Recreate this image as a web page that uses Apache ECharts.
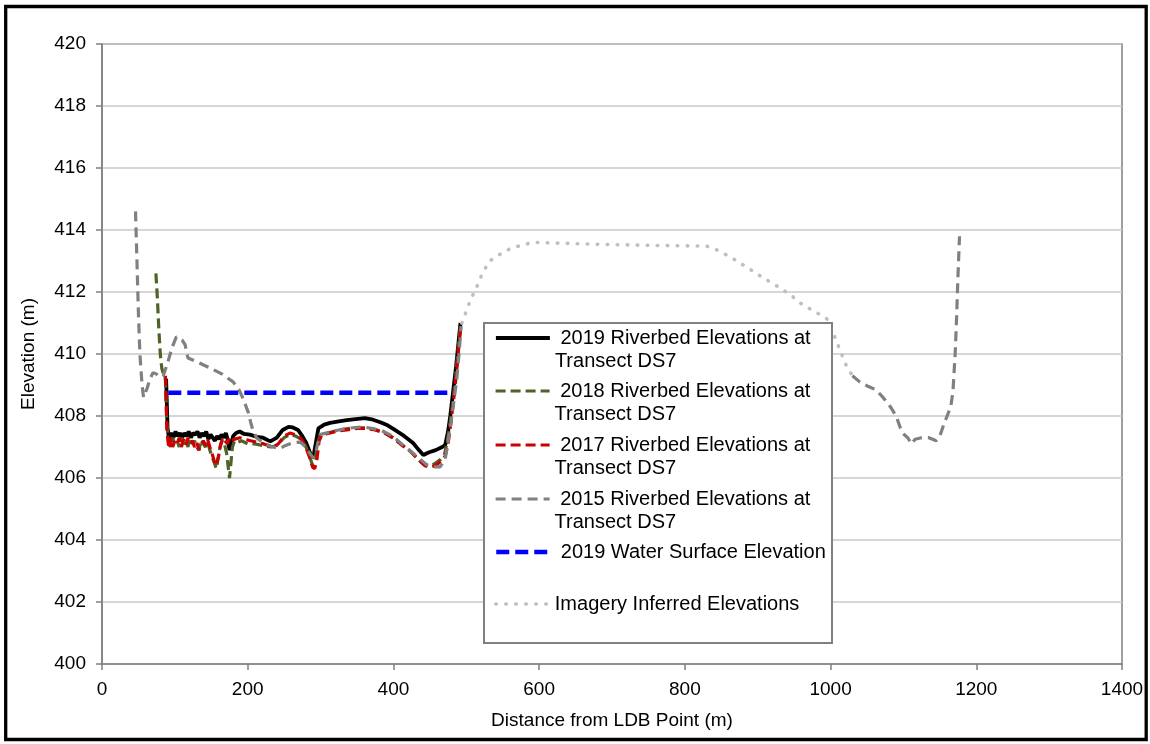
<!DOCTYPE html>
<html>
<head>
<meta charset="utf-8">
<script src="https://cdn.jsdelivr.net/npm/echarts@6/dist/echarts.min.js"></script>
<style>
html,body{margin:0;padding:0;background:#fff;}
#chart{width:1150px;height:744px;}
</style>
</head>
<body>
<div id="chart"></div>
<script>
// ---- Data (distance m, elevation m) ----
const xTicks = [0, 200, 400, 600, 800, 1000, 1200, 1400];
const yTicks = [400, 402, 404, 406, 408, 410, 412, 414, 416, 418, 420];

const names = [
  '2019 Riverbed Elevations at Transect DS7',
  '2018 Riverbed Elevations at Transect DS7',
  '2017 Riverbed Elevations at Transect DS7',
  '2015 Riverbed Elevations at Transect DS7',
  '2019 Water Surface Elevation',
  'Imagery Inferred Elevations'
];

const riverbed2019 = [
  [88,409.2],[89,408.4],[90,407.6],[92,407.3],[95,407.45],[98,407.3],[101,407.5],[104,407.35],[107,407.45],
  [110,407.3],[113,407.45],[116,407.35],[119,407.5],[122,407.3],[125,407.45],[128,407.4],[131,407.5],[134,407.3],
  [137,407.45],[140,407.35],[143,407.5],[146,407.25],[149,407.4],[152,407.3],[155,407.2],[158,407.35],[161,407.25],
  [164,407.4],[167,407.3],[170,407.45],[173,407.2],[175,406.9],[177,407.1],[180,407.35],[184,407.45],[189,407.5],
  [195,407.42],[203,407.4],[212,407.33],[221,407.3],[231,407.18],[240,407.3],[248,407.55],[256,407.65],[262,407.63],
  [269,407.55],[275,407.35],[280,407.15],[285,406.85],[288,406.65],[291,406.8],[294,407.2],[297,407.6],[305,407.72],
  [313,407.78],[325,407.83],[336,407.87],[348,407.9],[361,407.93],[372,407.88],[382,407.8],[392,407.7],[402,407.55],
  [415,407.35],[427,407.13],[435,406.9],[441,406.74],[446,406.8],[450,406.84],[458,406.9],[467,407.0],[471,407.06],
  [475,407.5],[478,408.0],[482,408.8],[486,409.6],[489,410.3],[492,411.0]
];

const riverbed2018 = [
  [74,412.6],[76,411.8],[78,410.8],[80,410.0],[82,409.55],[85,409.3],[87,409.2],[88,408.6],[89,407.8],[91,407.2],
  [94,407.0],[97,407.3],[100,407.1],[103,407.2],[106,407.0],[109,407.3],[112,407.1],[115,407.2],[118,407.0],
  [121,407.3],[124,407.1],[127,407.2],[130,407.0],[133,406.9],[136,407.2],[139,407.1],[142,407.0],[145,407.2],
  [148,406.9],[151,406.7],[154,406.5],[157,406.3],[159,406.6],[162,407.0],[165,407.2],[168,407.1],[171,406.8],
  [173,406.4],[175,406.0],[177,406.5],[179,407.0],[182,407.2],[186,407.15],[192,407.2],[200,407.1],[210,407.1],
  [220,407.05],[232,407.0],[240,407.05],[250,407.3],[258,407.4],[266,407.35],[273,407.25],[280,407.0],[285,406.7],
  [289,406.4],[292,406.5],[295,407.0],[299,407.35],[310,407.45],[325,407.55],[340,407.6],[358,407.62],[372,407.58],
  [385,407.5],[398,407.3],[410,407.1],[422,406.9],[432,406.65],[441,406.45],[448,406.4],[456,406.45],[465,406.6],
  [470,406.75],[474,407.2],[478,407.8],[482,408.5],[486,409.4],[489,410.2],[492,410.9]
];

const riverbed2017 = [
  [87,409.3],[88,408.5],[89,407.6],[91,407.1],[93,406.95],[95,407.3],[97,407.0],[100,407.2],[103,407.1],[106,407.3],
  [109,407.0],[112,407.25],[115,407.05],[118,407.3],[121,407.1],[124,407.2],[127,407.0],[130,407.15],[133,406.9],
  [136,407.1],[139,407.2],[142,407.05],[145,407.25],[148,407.0],[151,406.8],[154,406.55],[157,406.4],[160,406.7],
  [163,407.1],[166,407.3],[169,407.2],[172,407.1],[175,407.3],[178,407.2],[182,407.25],[189,407.3],[196,407.25],
  [204,407.2],[212,407.16],[222,407.1],[235,407.0],[242,407.1],[250,407.35],[258,407.45],[265,407.4],[272,407.3],
  [278,407.1],[282,406.85],[286,406.6],[289,406.35],[292,406.3],[295,406.6],[298,407.2],[302,407.4],[313,407.45],
  [325,407.52],[336,407.55],[350,407.6],[362,407.6],[375,407.55],[388,407.45],[400,407.3],[412,407.05],[424,406.85],
  [434,406.6],[443,406.4],[450,406.35],[458,406.4],[466,406.55],[471,406.7],[475,407.1],[479,407.8],[483,408.6],
  [487,409.5],[490,410.3],[493,411.0]
];

const riverbed2015 = [
  [46,414.6],[48,413.0],[50,411.3],[52,410.0],[55,409.0],[57,408.6],[62,408.9],[66,409.2],[70,409.4],[75,409.35],
  [80,409.25],[84,409.3],[90,409.7],[96,410.2],[102,410.55],[110,410.45],[114,410.3],[118,409.87],[130,409.75],
  [148,409.55],[165,409.35],[180,409.1],[188,408.85],[192,408.65],[197,408.35],[201,408.1],[204,407.8],[207,407.55],
  [212,407.3],[220,407.15],[228,407.05],[235,407.0],[244,406.95],[252,407.05],[261,407.13],[272,407.16],[280,407.0],
  [285,406.8],[290,406.65],[294,406.9],[299,407.4],[313,407.48],[325,407.55],[336,407.6],[348,407.63],[358,407.65],
  [370,407.6],[382,407.55],[395,407.4],[405,407.23],[416,407.0],[427,406.8],[437,406.6],[446,406.42],[455,406.36],
  [464,406.36],[471,406.6],[475,407.2],[479,407.8],[482,408.3],[487,409.2],[490,410.0],[493,410.9],
  [760,'-'],
  [1030,409.3],[1040,409.1],[1052,408.95],[1062,408.85],[1072,408.6],[1082,408.3],[1090,408.0],[1096,407.6],
  [1101,407.4],[1106,407.3],[1111,407.1],[1116,407.25],[1125,407.3],[1135,407.3],[1145,407.2],[1150,407.35],
  [1155,407.7],[1160,408.0],[1165,408.3],[1168,408.8],[1171,410.0],[1173,411.2],[1175,412.6],[1177,413.8]
];

const waterSurface2019 = [[91,408.75],[476,408.75]];

const imageryInferred = [
  [494,411.0],[505,411.7],[515,412.2],[522,412.6],[532,413.0],[545,413.2],[556,413.35],[567,413.45],[578,413.52],
  [592,413.6],[650,413.56],[700,413.53],[760,413.5],[830,413.48],[842,413.38],[852,413.26],[868,413.05],[885,412.8],
  [908,412.45],[931,412.13],[948,411.85],[962,411.58],[980,411.35],[997,411.1],[1005,410.6],[1015,410.0],
  [1022,409.6],[1030,409.3]
];

const seriesData = [riverbed2019, riverbed2018, riverbed2017, riverbed2015, waterSurface2019, imageryInferred];

// ---- Styles ----
const styles = [
  {color:'#000000', width:3.8, type:'solid', cap:'butt'},
  {color:'#4f6228', width:3.2, type:[10,5], cap:'butt'},
  {color:'#cc0000', width:3.2, type:[10,5], cap:'butt'},
  {color:'#808080', width:3.2, type:[10,6], cap:'butt'},
  {color:'#0000ff', width:4.5, type:[13,6], cap:'butt'},
  {color:'#bfbfbf', width:3.6, type:[0.5,9.5], cap:'round'}
];
const legendLines = [
  '\n 2019 Riverbed Elevations at\nTransect DS7',
  '\n 2018 Riverbed Elevations at\nTransect DS7',
  '\n 2017 Riverbed Elevations at\nTransect DS7',
  '\n 2015 Riverbed Elevations at\nTransect DS7',
  ' 2019 Water Surface Elevation',
  'Imagery Inferred Elevations'
];
const legendRowY = [338, 391, 445, 499, 552, 604];
const FS = 19, LFS = 20, LH = 23;
const FONT = 'Liberation Sans, Arial, sans-serif';

const series = names.map((n, i) => ({
  name: n,
  type: 'line',
  data: seriesData[i],
  symbol: 'none',
  showSymbol: false,
  connectNulls: false,
  animation: false,
  color: styles[i].color,
  itemStyle: {color: styles[i].color},
  lineStyle: styles[i],
  z: 2
}));

const legends = names.map((n, i) => {
  const twoLine = legendLines[i].indexOf('\n') >= 0;
  return {
    data: [n],
    left: 494,
    top: twoLine ? legendRowY[i] - 1.5 * LH : legendRowY[i] - LH / 2,
    orient: 'vertical',
    padding: 0,
    itemWidth: 54,
    itemHeight: 14,
    selectedMode: false,
    formatter: () => legendLines[i],
    itemStyle: {opacity: 0, color: 'rgba(0,0,0,0)', borderWidth: 0},
    lineStyle: {width: styles[i].width},
    textStyle: {fontSize: LFS, lineHeight: LH, color: '#000', fontFamily: FONT},
    z: 5
  };
});

const chart = echarts.init(document.getElementById('chart'), null, {renderer: 'canvas'});
chart.setOption({
  animation: false,
  backgroundColor: '#ffffff',
  textStyle: {fontFamily: FONT},
  grid: {left: 102, top: 44, right: 28, bottom: 80, show: true, borderColor: '#808080', borderWidth: 1.5, backgroundColor: 'transparent'},
  xAxis: {
    type: 'value', min: xTicks[0], max: xTicks[xTicks.length - 1], interval: 200,
    name: 'Distance from LDB Point (m)', nameLocation: 'middle', nameGap: 47,
    nameTextStyle: {fontSize: FS, color: '#000', fontFamily: FONT},
    axisLine: {show: true, lineStyle: {color: '#808080', width: 1.5}},
    axisTick: {show: true, inside: false, length: 6, lineStyle: {color: '#808080', width: 1.5}},
    axisLabel: {fontSize: FS, color: '#000', margin: 16, fontFamily: FONT, formatter: v => String(v)},
    splitLine: {show: false}
  },
  yAxis: {
    type: 'value', min: yTicks[0], max: yTicks[yTicks.length - 1], interval: 2,
    name: 'Elevation (m)', nameLocation: 'middle', nameGap: 64,
    nameTextStyle: {fontSize: FS, color: '#000', fontFamily: FONT},
    axisLine: {show: true, lineStyle: {color: '#808080', width: 1.5}},
    axisTick: {show: true, inside: false, length: 6, lineStyle: {color: '#808080', width: 1.5}},
    axisLabel: {fontSize: FS, color: '#000', margin: 16, fontFamily: FONT, formatter: v => String(v)},
    splitLine: {show: true, lineStyle: {color: '#c8c8c8', width: 1.5}}
  },
  legend: legends,
  graphic: [
    {type: 'rect', z: 3, shape: {x: 484, y: 323, width: 348, height: 320},
     style: {fill: '#ffffff', stroke: '#808080', lineWidth: 2}},
    {type: 'rect', z: 10, shape: {x: 5.7, y: 6.5, width: 1140.5, height: 733},
     style: {fill: 'none', stroke: '#000000', lineWidth: 3.3}}
  ],
  series: series
});
</script>
</body>
</html>
